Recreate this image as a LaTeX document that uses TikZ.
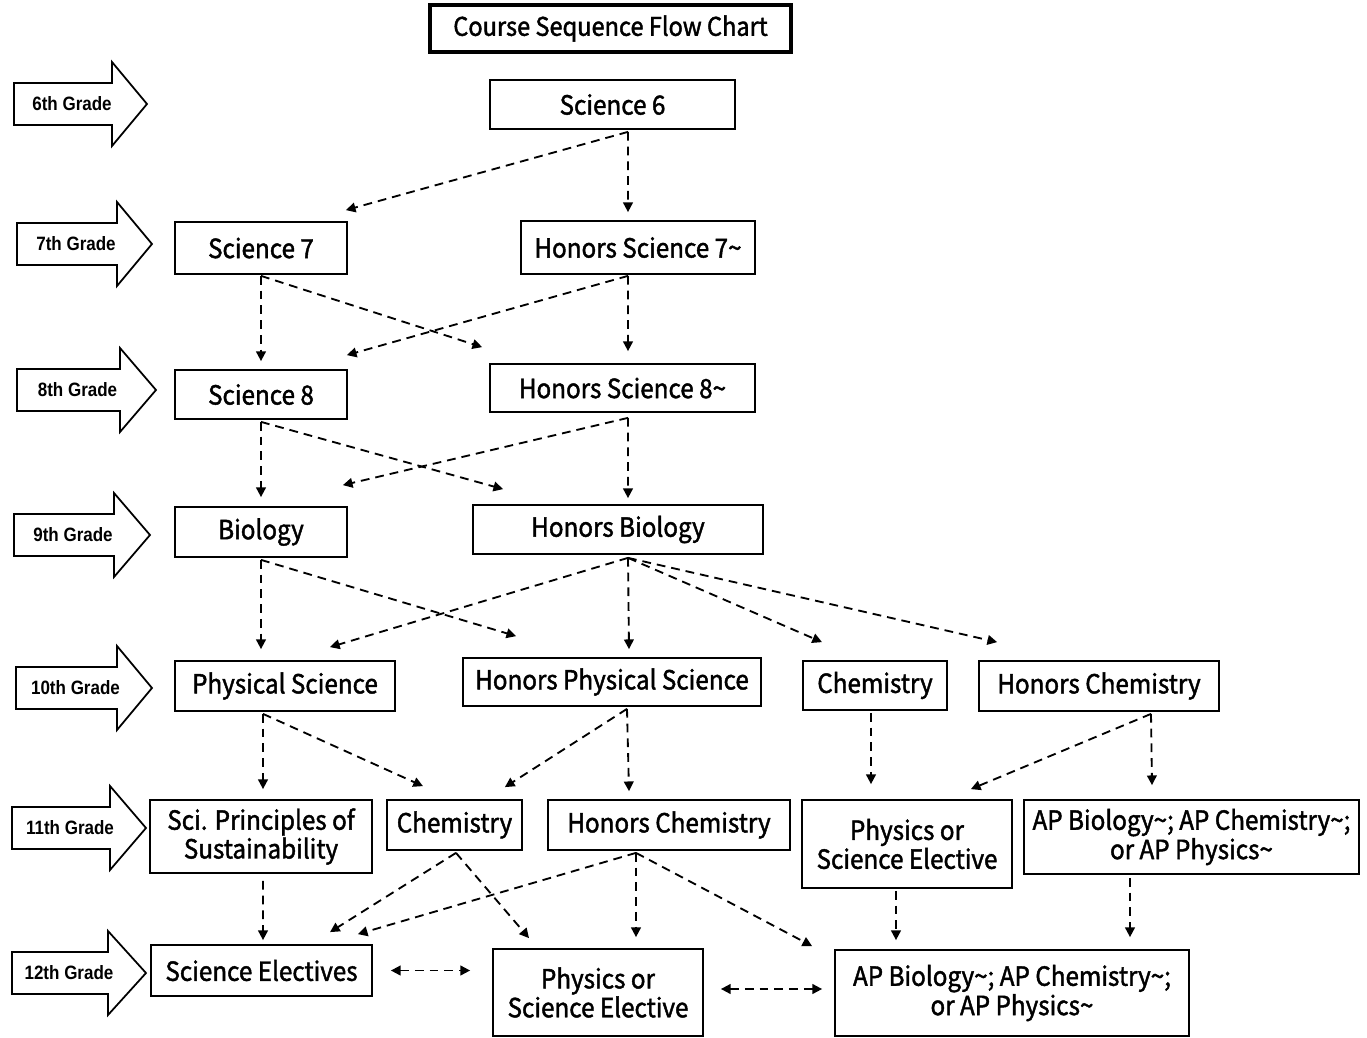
\documentclass[tikz,border=0pt]{standalone}
\usepackage{fontspec}
\setmainfont{Noto Sans CJK SC}[FakeStretch=0.92, FakeBold=1.6]
\newfontfamily\gradefont{Liberation Sans}
\usetikzlibrary{arrows.meta,calc}

\begin{document}
\begin{tikzpicture}
      [ x=0.02cm, y=-0.02cm,
        course/.style={draw, line width=1pt, inner sep=0pt, align=center,
                       font=\fontsize{15}{15}\selectfont},
        dims/.style 2 args={minimum width=#1*0.02cm, minimum height=#2*0.02cm},
        flow/.style={line width=1.05pt, dash pattern=on 5pt off 3.4pt,
                     -{Triangle[length=5.5pt,width=5.5pt]}},
        both/.style={flow, {Triangle[length=5.5pt,width=5.5pt]}-{Triangle[length=5.5pt,width=5.5pt]}},
        gradearrow/.style={draw, line width=1pt, fill=white},
        gradelabel/.style={inner sep=0pt, font=\gradefont\bfseries\fontsize{11}{12}\selectfont}
      ]
      \useasboundingbox (0,0) rectangle (1367,1038);

      \node[draw, line width=2.3pt, dims={361}{47}, inner sep=0pt,
            font=\fontsize{14.6}{15}\selectfont] (title) at (610.5,28.5) {Course Sequence Flow Chart};

      % grade markers
      \foreach \g/\yy/\xl/\xn/\xt in {6th/104/14/112/147, 7th/244/17/117/152, 8th/390/17/120/156,
                                     9th/535/14/114/150, 10th/688/16/117/152, 11th/828/12/110/146,
                                     12th/973/12/108/146}
      {
        \draw[gradearrow] (\xl,\yy-21) -- (\xn,\yy-21) -- (\xn,\yy-42) -- (\xt,\yy)
                          -- (\xn,\yy+42) -- (\xn,\yy+21) -- (\xl,\yy+21) -- cycle;
        \node[gradelabel] (g\g) at ({(\xl+\xn)/2+9},\yy) {\scalebox{0.88}[1]{\g\ Grade}};
      }

      % courses
      \node[course, dims={245}{49}] (s6)      at (612.5,104.5) {Science 6};
      \node[course, dims={172}{52}] (s7)      at (261,248)     {Science 7};
      \node[course, dims={234}{53}] (hs7)     at (638,247.5)   {Honors Science 7\textasciitilde};
      \node[course, dims={172}{49}] (s8)      at (261,394.5)   {Science 8};
      \node[course, dims={265}{48}] (hs8)     at (622.5,388)   {Honors Science 8\textasciitilde};
      \node[course, dims={172}{50}] (bio)     at (261,532)     {Biology};
      \node[course, dims={290}{49}] (hbio)    at (618,529.5)   {Honors Biology};
      \node[course, dims={220}{50}] (ps)      at (285,686)     {Physical Science};
      \node[course, dims={298}{48}] (hps)     at (612,682)     {Honors Physical Science};
      \node[course, dims={144}{49}] (chem10)  at (875,685.5)   {Chemistry};
      \node[course, dims={240}{50}] (hchem10) at (1099,686)    {Honors Chemistry};
      \node[course, dims={222}{73}] (sps)     at (261,836.5)   {Sci. Principles of\\Sustainability};
      \node[course, dims={135}{50}] (chem11)  at (454.5,825)   {Chemistry};
      \node[course, dims={242}{50}] (hchem11) at (669,825)     {Honors Chemistry};
      \node[course, dims={210}{88}] (pse11)   at (907,844)     {Physics or\\Science Elective};
      \node[course, dims={335}{74}] (ap11)    at (1191.5,837)  {AP Biology\textasciitilde; AP Chemistry\textasciitilde;\\or AP Physics\textasciitilde};
      \node[course, dims={221}{51}] (se)      at (261.5,970.5) {Science Electives};
      \node[course, dims={210}{87}] (pse12)   at (598,992.5)   {Physics or\\Science Elective};
      \node[course, dims={354}{86}] (ap12)    at (1012,993)    {AP Biology\textasciitilde; AP Chemistry\textasciitilde;\\or AP Physics\textasciitilde};

      % sequences
      \path[flow] ($(s6.south)+(15.5,2)$)    edge ($(s7.north east)+(-2,-11)$)
                                             edge ($(hs7.north)+(-10,-8)$)
                  ($(s7.south)+(0,1)$)       edge ($(s8.north)+(0,-8)$)
                                             edge ($(hs8.north west)+(-7,-16)$)
                  ($(hs7.south)+(-10,1)$)    edge ($(s8.north east)+(-1,-14)$)
                                             edge ($(hs8.north)+(5.5,-12)$)
                  ($(s8.south)+(0,2)$)       edge ($(bio.north)+(0,-9)$)
                                             edge ($(hbio.north west)+(31,-15)$)
                  ($(hs8.south)+(5.5,5)$)    edge ($(bio.north east)+(-5,-21)$)
                                             edge ($(hbio.north)+(10,-6)$)
                  ($(bio.south)+(0,2)$)      edge ($(ps.north)+(-24,-11)$)
                                             edge ($(hps.north west)+(54,-21)$)
                  ($(hbio.south)+(10,3)$)    edge ($(ps.north)+(45,-13)$)
                                             edge ($(hps.north)+(17,-8)$)
                                             edge ($(chem10.north)+(-53,-18)$)
                                             edge ($(hchem10.north west)+(19,-18)$)
                  ($(ps.south)+(-22,2)$)     edge ($(sps.north)+(2,-10)$)
                                             edge ($(chem11.north)+(-31.5,-13)$)
                  ($(hps.south)+(15,2)$)     edge ($(chem11.north east)+(-18,-12)$)
                                             edge ($(hchem11.north)+(-40,-8)$)
                  ($(chem10.south)+(-4,2)$)  edge ($(pse11.north)+(-36,-15)$)
                  ($(hchem10.south)+(52,2)$) edge ($(pse11.north east)+(-42,-10)$)
                                             edge ($(ap11.north)+(-39.5,-14)$)
                  ($(sps.south)+(2,7)$)      edge ($(se.north)+(1.5,-4)$)
                  ($(chem11.south)+(1.5,2)$) edge ($(se.north)+(68.5,-12)$)
                                             edge ($(pse12.north)+(-69,-10)$)
                  ($(hchem11.south)+(-33,2)$) edge ($(se.north east)+(-15,-10)$)
                                             edge ($(pse12.north)+(38,-11)$)
                                             edge ($(ap12.north west)+(-22,-3)$)
                  ($(pse11.south)+(-11,2)$)  edge ($(ap12.north)+(-116,-9)$)
                  ($(ap11.south)+(-61.5,3)$) edge ($(ap12.north)+(118,-12)$);

      \path[both] ($(se.east)+(18,0)$)       edge ($(pse12.west |- se.east)+(-22,0)$)
                  ($(pse12.east)+(17,-3.5)$) edge ($(ap12.west)+(-12,-4)$);
\end{tikzpicture}
\end{document}
